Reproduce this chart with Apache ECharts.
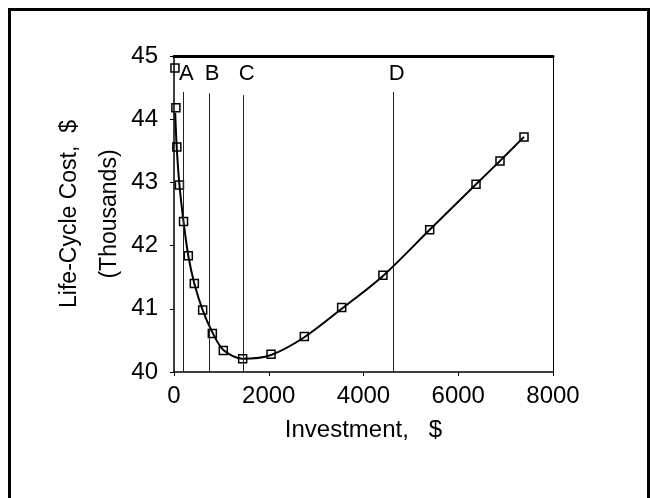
<!DOCTYPE html>
<html>
<head>
<meta charset="utf-8">
<script src="https://cdn.jsdelivr.net/npm/echarts@6/dist/echarts.min.js"></script>
<style>
  html, body { margin: 0; background: #fff; }
  #chart { width: 650px; height: 498px; }
</style>
</head>
<body>
<div id="chart"></div>
<script>
// measured squares (investment $, life-cycle cost $ thousands)
const pointX = [20, 40, 60, 115, 201, 302, 429, 605, 809, 1041, 1449, 2048, 2751, 3539, 4410, 5397, 6375, 6881, 7388]
const pointY = [44.81, 44.18, 43.56, 42.96, 42.38, 41.84, 41.40, 40.98, 40.61, 40.34, 40.21, 40.28, 40.56, 41.02, 41.53, 42.25, 42.97, 43.34, 43.72]

// fitted curve
const curveX = [25, 60, 115, 201, 302, 429, 605, 809, 1041, 1449, 2048, 2751, 3539, 4410, 5397, 6375, 6881, 7388]
const curveY = [44.1, 43.52, 42.96, 42.38, 41.84, 41.40, 40.98, 40.63, 40.35, 40.21, 40.27, 40.55, 41.0, 41.52, 42.25, 42.97, 43.34, 43.72]

// reference lines A-D
const markNames = ['A', 'B', 'C', 'D']
const markX = [197, 739, 1471, 4637]
const markTop = [44.43, 44.41, 44.38, 44.43]
const markLabelY = 44.72

const xTicks = [0, 2000, 4000, 6000, 8000]
const yTicks = [40, 41, 42, 43, 44, 45]

const FONT = 'Liberation Sans, Arial, sans-serif'

const chart = echarts.init(document.getElementById('chart'))

chart.setOption({
  animation: false,
  backgroundColor: '#fff',
  graphic: [{
    type: 'polyline',
    shape: { points: [[9.5, 498], [9.5, 9.5], [648.5, 9.5], [648.5, 498]] },
    style: { fill: null, stroke: '#000', lineWidth: 3 },
    silent: true
  }],
  grid: { left: 174, right: 97, top: 56, bottom: 126 },
  xAxis: [
    {
      type: 'value',
      min: xTicks[0],
      max: xTicks[xTicks.length - 1],
      interval: 2000,
      name: 'Investment,   $',
      nameLocation: 'middle',
      nameGap: 46,
      nameMoveOverlap: false,
      nameTextStyle: { color: '#000', fontSize: 24, fontFamily: FONT },
      axisLine: { show: true, onZero: false, lineStyle: { color: '#000', width: 1.5 } },
      axisTick: { show: true, length: 4, lineStyle: { color: '#000' } },
      axisLabel: { color: '#000', fontSize: 24, fontFamily: FONT, margin: 12, formatter: v => String(v) },
      splitLine: { show: false }
    },
    {
      type: 'value',
      position: 'top',
      min: xTicks[0],
      max: xTicks[xTicks.length - 1],
      axisLine: { show: true, onZero: false, lineStyle: { color: '#000', width: 3 } },
      axisTick: { show: false },
      axisLabel: { show: false },
      splitLine: { show: false }
    }
  ],
  yAxis: [
    {
      type: 'value',
      min: yTicks[0],
      max: yTicks[yTicks.length - 1],
      interval: 1,
      name: 'Life-Cycle Cost,  $\n(Thousands)',
      nameLocation: 'middle',
      nameRotate: 90,
      nameGap: 44,
      nameMoveOverlap: false,
      nameTextStyle: { color: '#000', fontSize: 23, lineHeight: 40, fontFamily: FONT },
      axisLine: { show: true, onZero: false, lineStyle: { color: '#000', width: 1.5 } },
      axisTick: { show: true, length: 4, lineStyle: { color: '#000' } },
      axisLabel: { color: '#000', fontSize: 24, fontFamily: FONT, margin: 16 },
      splitLine: { show: false }
    },
    {
      type: 'value',
      position: 'right',
      min: yTicks[0],
      max: yTicks[yTicks.length - 1],
      axisLine: { show: true, onZero: false, lineStyle: { color: '#000', width: 1 } },
      axisTick: { show: false },
      axisLabel: { show: false },
      splitLine: { show: false }
    }
  ],
  series: [
    {
      name: 'curve',
      type: 'line',
      data: curveX.map((x, i) => [x, curveY[i]]),
      smooth: 0.3,
      showSymbol: false,
      lineStyle: { color: '#000', width: 2 },
      silent: true,
      markLine: {
        silent: true,
        symbol: ['none', 'none'],
        lineStyle: { color: '#222', width: 1, type: 'solid' },
        label: { show: false },
        data: markX.map((x, i) => [{ coord: [x, 40] }, { coord: [x, markTop[i]] }])
      }
    },
    {
      name: 'points',
      type: 'scatter',
      data: pointX.map((x, i) => [x, pointY[i]]),
      symbol: 'rect',
      symbolSize: 8,
      itemStyle: { color: 'rgba(0,0,0,0)', borderColor: '#000', borderWidth: 1.5, opacity: 1 },
      silent: true
    },
    {
      name: 'letters',
      type: 'scatter',
      data: markX.map((x, i) => ({ value: [x, markLabelY], name: markNames[i] })),
      symbolSize: 0,
      silent: true,
      itemStyle: { opacity: 1 },
      label: {
        show: true,
        position: 'inside',
        offset: [3, 0],
        formatter: p => p.name,
        color: '#000',
        fontSize: 22,
        fontFamily: FONT
      }
    }
  ]
})
</script>
</body>
</html>
